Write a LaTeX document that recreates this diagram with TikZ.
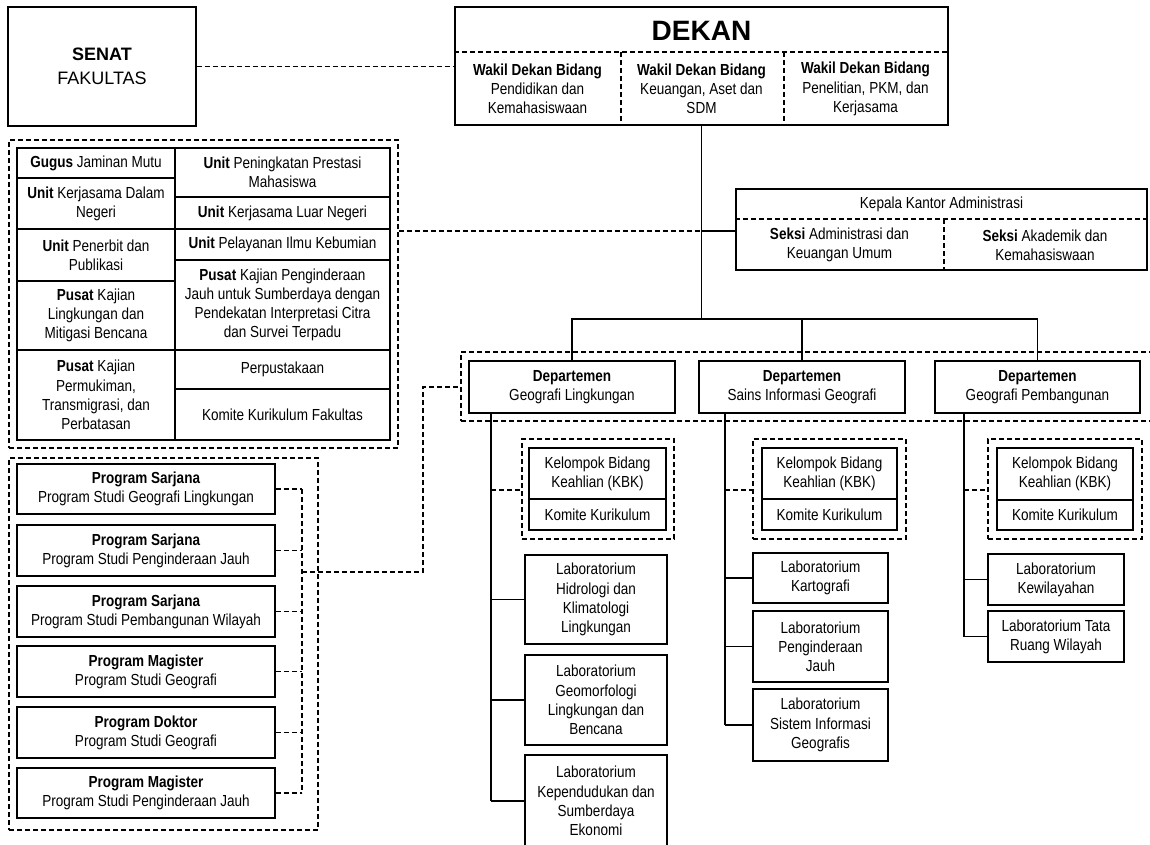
\documentclass[tikz,border=0pt]{standalone}
\usepackage{fontspec}
\newfontfamily\nf{Liberation Sans}[FakeStretch=0.845]
\newfontfamily\bigf{Liberation Sans}
\tikzset{
  x=1pt, y=-1pt,
  box/.style={draw, line width=1.9pt, inner sep=0pt, align=center, font=\nf\fontsize{16}{19.2}\selectfont},
  plain/.style={draw=none, inner sep=0pt, align=center, font=\nf\fontsize{16}{19.2}\selectfont},
  grp/.style={draw, line width=1.7pt, dash pattern=on 5pt off 3pt, inner sep=0pt},
  dsh/.style={line width=1.7pt, dash pattern=on 5pt off 3pt},
  sol/.style={line width=1.9pt},
}
\newcommand\bx[7][]{\node[box,#1,minimum width={(#5-#3)*1pt},minimum height={(#6-#4)*1pt}] (#2) at ({(#3+#5)/2},{(#4+#6)/2}) {#7};}
\begin{document}
\begin{tikzpicture}
\useasboundingbox[fill=white] (0,0) rectangle (1150,844);
% groups
\bx[grp]{gunit}{9}{140}{398}{448}{}
\bx[grp]{gprog}{9}{458}{318}{830}{}
\bx[grp]{gdept}{461}{352}{1153}{421}{}
\bx[grp]{gk1}{522}{439}{674}{539}{}
\bx[grp]{gk2}{753}{439}{906}{539}{}
\bx[grp]{gk3}{988}{439}{1142}{539}{}
% senat
\bx[font={\bigf\fontsize{18}{24}\selectfont}]{senat}{8}{7}{196}{126}{\textbf{SENAT}\\FAKULTAS}
% dekan
\bx{dekan}{455}{7}{948}{125}{}
\node[font={\bigf\bfseries\fontsize{28}{30}\selectfont}, inner sep=0pt] (dektitle) at (701.5,31) {DEKAN};
\bx[plain]{wk1}{455}{53}{620}{125}{\textbf{Wakil Dekan Bidang}\\Pendidikan dan\\Kemahasiswaan}
\bx[plain]{wk2}{620}{53}{783}{125}{\textbf{Wakil Dekan Bidang}\\Keuangan, Aset dan\\SDM}
\bx[plain]{wk3}{783}{53}{948}{125}{\textbf{Wakil Dekan Bidang}\\Penelitian, PKM, dan\\Kerjasama}
\draw[dsh] (wk1.north west) -- (wk3.north east);
\draw[dsh] (wk1.north east) -- (wk1.south east);
\draw[dsh] (wk2.north east) -- (wk2.south east);
\draw[dsh] (senat.east) -- (senat.east -| dekan.west);
% admin
\bx{admin}{736}{189}{1147}{270}{}
\bx[plain]{kepala}{736}{189}{1147}{220}{Kepala Kantor Administrasi}
\bx[plain]{seksi1}{736}{220}{943}{270}{\textbf{Seksi} Administrasi dan\\Keuangan Umum}
\bx[plain]{seksi2}{943}{220}{1147}{270}{\textbf{Seksi} Akademik dan\\Kemahasiswaan}
\draw[dsh] (seksi1.north west) -- (seksi2.north east);
\draw[dsh] (seksi1.north east) -- (seksi1.south east);
% unit grid
\bx{u1}{17}{148}{175}{178}{\textbf{Gugus} Jaminan Mutu}
\bx{u2}{17}{178}{175}{229}{\textbf{Unit} Kerjasama Dalam\\Negeri}
\bx{u3}{17}{229}{175}{281}{\textbf{Unit} Penerbit dan\\Publikasi}
\bx{u4}{17}{281}{175}{350}{\textbf{Pusat} Kajian\\Lingkungan dan\\Mitigasi Bencana}
\bx{u5}{17}{350}{175}{440}{\textbf{Pusat} Kajian\\Permukiman,\\Transmigrasi, dan\\Perbatasan}
\bx{r1}{175}{148}{390}{197}{\textbf{Unit} Peningkatan Prestasi\\Mahasiswa}
\bx{r2}{175}{197}{390}{229}{\textbf{Unit} Kerjasama Luar Negeri}
\bx{r3}{175}{229}{390}{260}{\textbf{Unit} Pelayanan Ilmu Kebumian}
\bx{r4}{175}{260}{390}{350}{\textbf{Pusat} Kajian Penginderaan\\Jauh untuk Sumberdaya dengan\\Pendekatan Interpretasi Citra\\dan Survei Terpadu}
\bx{r5}{175}{350}{390}{389}{Perpustakaan}
\bx{r6}{175}{389}{390}{440}{Komite Kurikulum Fakultas}
% trunk
\coordinate (tadm) at (701.5,231);
\coordinate (tdep) at (701.5,319);
\draw[sol] (dekan.south) -- (tdep);
\draw[sol] (tadm) -- (tadm -| admin.west);
\draw[dsh] (tadm -| gunit.east) -- (tadm);
% departments
\bx{d1}{469}{361}{675}{413}{\textbf{Departemen}\\Geografi Lingkungan}
\bx{d2}{699}{361}{905}{413}{\textbf{Departemen}\\Sains Informasi Geografi}
\bx{d3}{935}{361}{1140}{413}{\textbf{Departemen}\\Geografi Pembangunan}
\draw[sol] (d1.north) |- (tdep) -| (d3.north);
\draw[sol] (d2.north) -- (d2.north |- tdep);
% programs
\bx{p1}{17}{464}{275}{514}{\textbf{Program Sarjana}\\Program Studi Geografi Lingkungan}
\bx{p2}{17}{525}{275}{576}{\textbf{Program Sarjana}\\Program Studi Penginderaan Jauh}
\bx{p3}{17}{586}{275}{637}{\textbf{Program Sarjana}\\Program Studi Pembangunan Wilayah}
\bx{p4}{17}{646}{275}{697}{\textbf{Program Magister}\\Program Studi Geografi}
\bx{p5}{17}{707}{275}{758}{\textbf{Program Doktor}\\Program Studi Geografi}
\bx{p6}{17}{768}{275}{818}{\textbf{Program Magister}\\Program Studi Penginderaan Jauh}
\coordinate (pb) at (302,572);
\foreach \p in {p1,p2,p3,p4,p5,p6} { \draw[dsh] (\p.east) -- (\p.east -| pb); }
\draw[dsh] (p1.east -| pb) -- (p6.east -| pb);
\coordinate (pc) at (423,387);
\draw[dsh] (pb) -| (pc) -- (pc -| gdept.west);
% KBK groups
\bx{k1a}{529}{448}{666}{499}{Kelompok Bidang\\Keahlian (KBK)}
\bx{k1b}{529}{499}{666}{530}{Komite Kurikulum}
\bx{k2a}{762}{448}{897}{499}{Kelompok Bidang\\Keahlian (KBK)}
\bx{k2b}{762}{499}{897}{530}{Komite Kurikulum}
\bx{k3a}{997}{448}{1133}{500}{Kelompok Bidang\\Keahlian (KBK)}
\bx{k3b}{997}{500}{1133}{530}{Komite Kurikulum}
% labs
\bx{l11}{525}{555}{667}{644}{Laboratorium\\Hidrologi dan\\Klimatologi\\Lingkungan}
\bx{l12}{525}{655}{667}{745}{Laboratorium\\Geomorfologi\\Lingkungan dan\\Bencana}
\bx{l13}{525}{755}{667}{847}{Laboratorium\\Kependudukan dan\\Sumberdaya\\Ekonomi}
\bx{l21}{753}{553}{888}{603}{Laboratorium\\Kartografi}
\bx{l22}{753}{611}{888}{682}{Laboratorium\\Penginderaan\\Jauh}
\bx{l23}{753}{689}{888}{761}{Laboratorium\\Sistem Informasi\\Geografis}
\bx{l31}{988}{554}{1124}{605}{Laboratorium\\Kewilayahan}
\bx{l32}{988}{611}{1124}{662}{Laboratorium Tata\\Ruang Wilayah}
% department trunks
\coordinate (t1) at (491,413);
\coordinate (t2) at (725,413);
\coordinate (t3) at (964,413);
\coordinate (ky) at (0,490);
\draw[sol] (t1) -- (t1 |- l13.west);
\draw[sol] (t2) -- (t2 |- l23.west);
\draw[sol] (t3) -- (t3 |- l32.west);
\draw[dsh] (t1 |- ky) -- (ky -| gk1.west);
\draw[dsh] (t2 |- ky) -- (ky -| gk2.west);
\draw[dsh] (t3 |- ky) -- (ky -| gk3.west);
\foreach \l in {l11,l12,l13} { \draw[sol] (t1 |- \l.west) -- (\l.west); }
\foreach \l in {l21,l22,l23} { \draw[sol] (t2 |- \l.west) -- (\l.west); }
\foreach \l in {l31,l32} { \draw[sol] (t3 |- \l.west) -- (\l.west); }
\end{tikzpicture}
\end{document}
